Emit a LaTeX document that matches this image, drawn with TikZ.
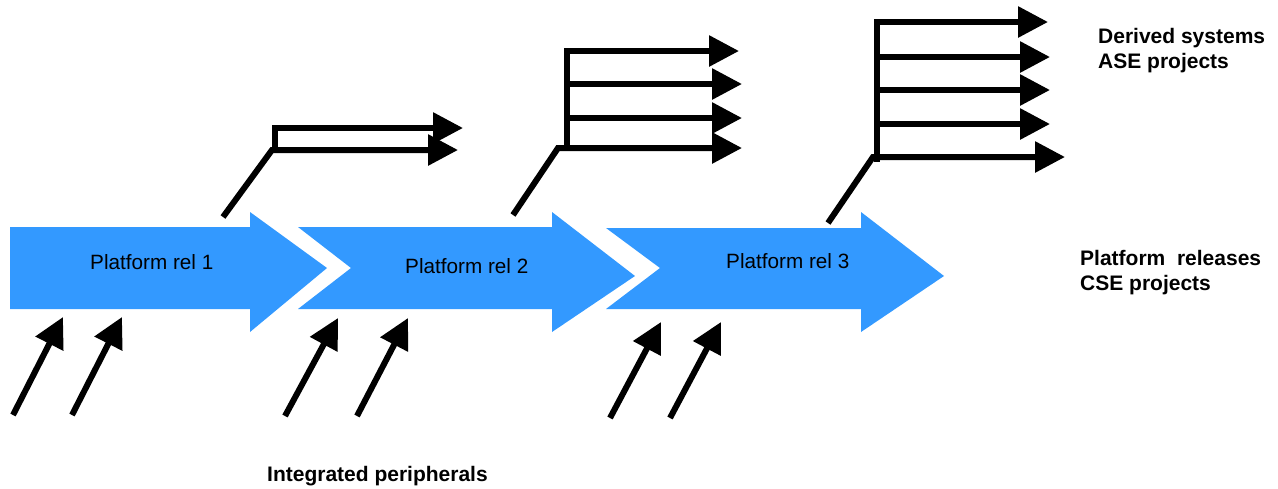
\documentclass[tikz,border=0pt]{standalone}
\usepackage{fontspec}
\setmainfont{Liberation Sans}
\usetikzlibrary{arrows.meta}
\definecolor{relblue}{RGB}{51,153,255}
\tikzset{
  flow/.style={line width=6pt, -{Triangle[length=30pt,width=30pt]}},
  relfill/.style={fill=relblue, draw=none},
  reltext/.style={font=\fontsize{20.7}{24}\selectfont, anchor=base west, inner sep=0pt},
  labeltext/.style={font=\bfseries\fontsize{21}{25.5}\selectfont, anchor=north west, inner sep=0pt, align=left},
}
\begin{document}
\begin{tikzpicture}[x=1pt,y=-1pt]
\useasboundingbox (0,0) rectangle (1278,488);
% big release arrows
\fill[relfill] (10,227) -- (250,227) -- (250,212) -- (327,268) -- (250,332) -- (250,309) -- (10,309) -- cycle;
\fill[relfill] (298,227) -- (552,227) -- (552,212) -- (635,276) -- (552,332) -- (552,309) -- (298,309) -- (351,268) -- cycle;
\fill[relfill] (606,228) -- (861,228) -- (861,212) -- (944,276) -- (861,332) -- (861,309) -- (606,309) -- (660,268) -- cycle;
\node[reltext] (rel1) at (90,269) {Platform rel 1};
\node[reltext] (rel2) at (405,273) {Platform rel 2};
\node[reltext] (rel3) at (726,268) {Platform rel 3};
% derived systems group 1
\coordinate (a1s) at (223,217);
\coordinate (a1k) at (272,150);
\coordinate (a1e) at (458,150);
\coordinate (a1v) at (275,150);
\coordinate (a1t) at (275,128);
\coordinate (a1f) at (463,128);
\draw[flow] (a1s) -- (a1k) -- (a1e);
\draw[flow] (a1v) -- (a1t) -- (a1f);
% group 2
\coordinate (a2s) at (513,215);
\coordinate (a2k) at (558,148);
\coordinate (a2e) at (742,148);
\coordinate (a2v) at (567,148);
\coordinate (a2t) at (567,51);
\coordinate (a2f) at (739,51);
\coordinate (a2b1) at (567,84);
\coordinate (a2c1) at (742,84);
\coordinate (a2b2) at (567,118);
\coordinate (a2c2) at (742,118);
\draw[flow] (a2s) -- (a2k) -- (a2e);
\draw[flow] (a2v) -- (a2t) -- (a2f);
\draw[flow] (a2b1) -- (a2c1);
\draw[flow] (a2b2) -- (a2c2);
% group 3
\coordinate (a3s) at (828,223);
\coordinate (a3k) at (873,157);
\coordinate (a3e) at (1065,157);
\coordinate (a3v) at (877,162);
\coordinate (a3t) at (877,22);
\coordinate (a3f) at (1048,22);
\coordinate (a3b1) at (877,57);
\coordinate (a3c1) at (1050,57);
\coordinate (a3b2) at (877,90);
\coordinate (a3c2) at (1050,90);
\coordinate (a3b3) at (877,124);
\coordinate (a3c3) at (1050,124);
\draw[flow] (a3s) -- (a3k) -- (a3e);
\draw[flow] (a3v) -- (a3t) -- (a3f);
\draw[flow] (a3b1) -- (a3c1);
\draw[flow] (a3b2) -- (a3c2);
\draw[flow] (a3b3) -- (a3c3);
% integrated peripherals arrows
\coordinate (p1s) at (13,415);  \coordinate (p1e) at (63,317);
\coordinate (p2s) at (72,415);  \coordinate (p2e) at (122,317);
\coordinate (p3s) at (285,416); \coordinate (p3e) at (338,318);
\coordinate (p4s) at (357,416); \coordinate (p4e) at (408,318);
\coordinate (p5s) at (610,418); \coordinate (p5e) at (661,322);
\coordinate (p6s) at (670,418); \coordinate (p6e) at (721,322);
\draw[flow] (p1s) -- (p1e);
\draw[flow] (p2s) -- (p2e);
\draw[flow] (p3s) -- (p3e);
\draw[flow] (p4s) -- (p4e);
\draw[flow] (p5s) -- (p5e);
\draw[flow] (p6s) -- (p6e);
% labels
\node[labeltext] (derived) at (1098,28) {Derived systems\\ASE projects};
\node[labeltext] (platform) at (1080,250) {Platform\ \ releases\\CSE projects};
\node[labeltext, anchor=base west] (periph) at (267,481) {Integrated peripherals};
\end{tikzpicture}
\end{document}
